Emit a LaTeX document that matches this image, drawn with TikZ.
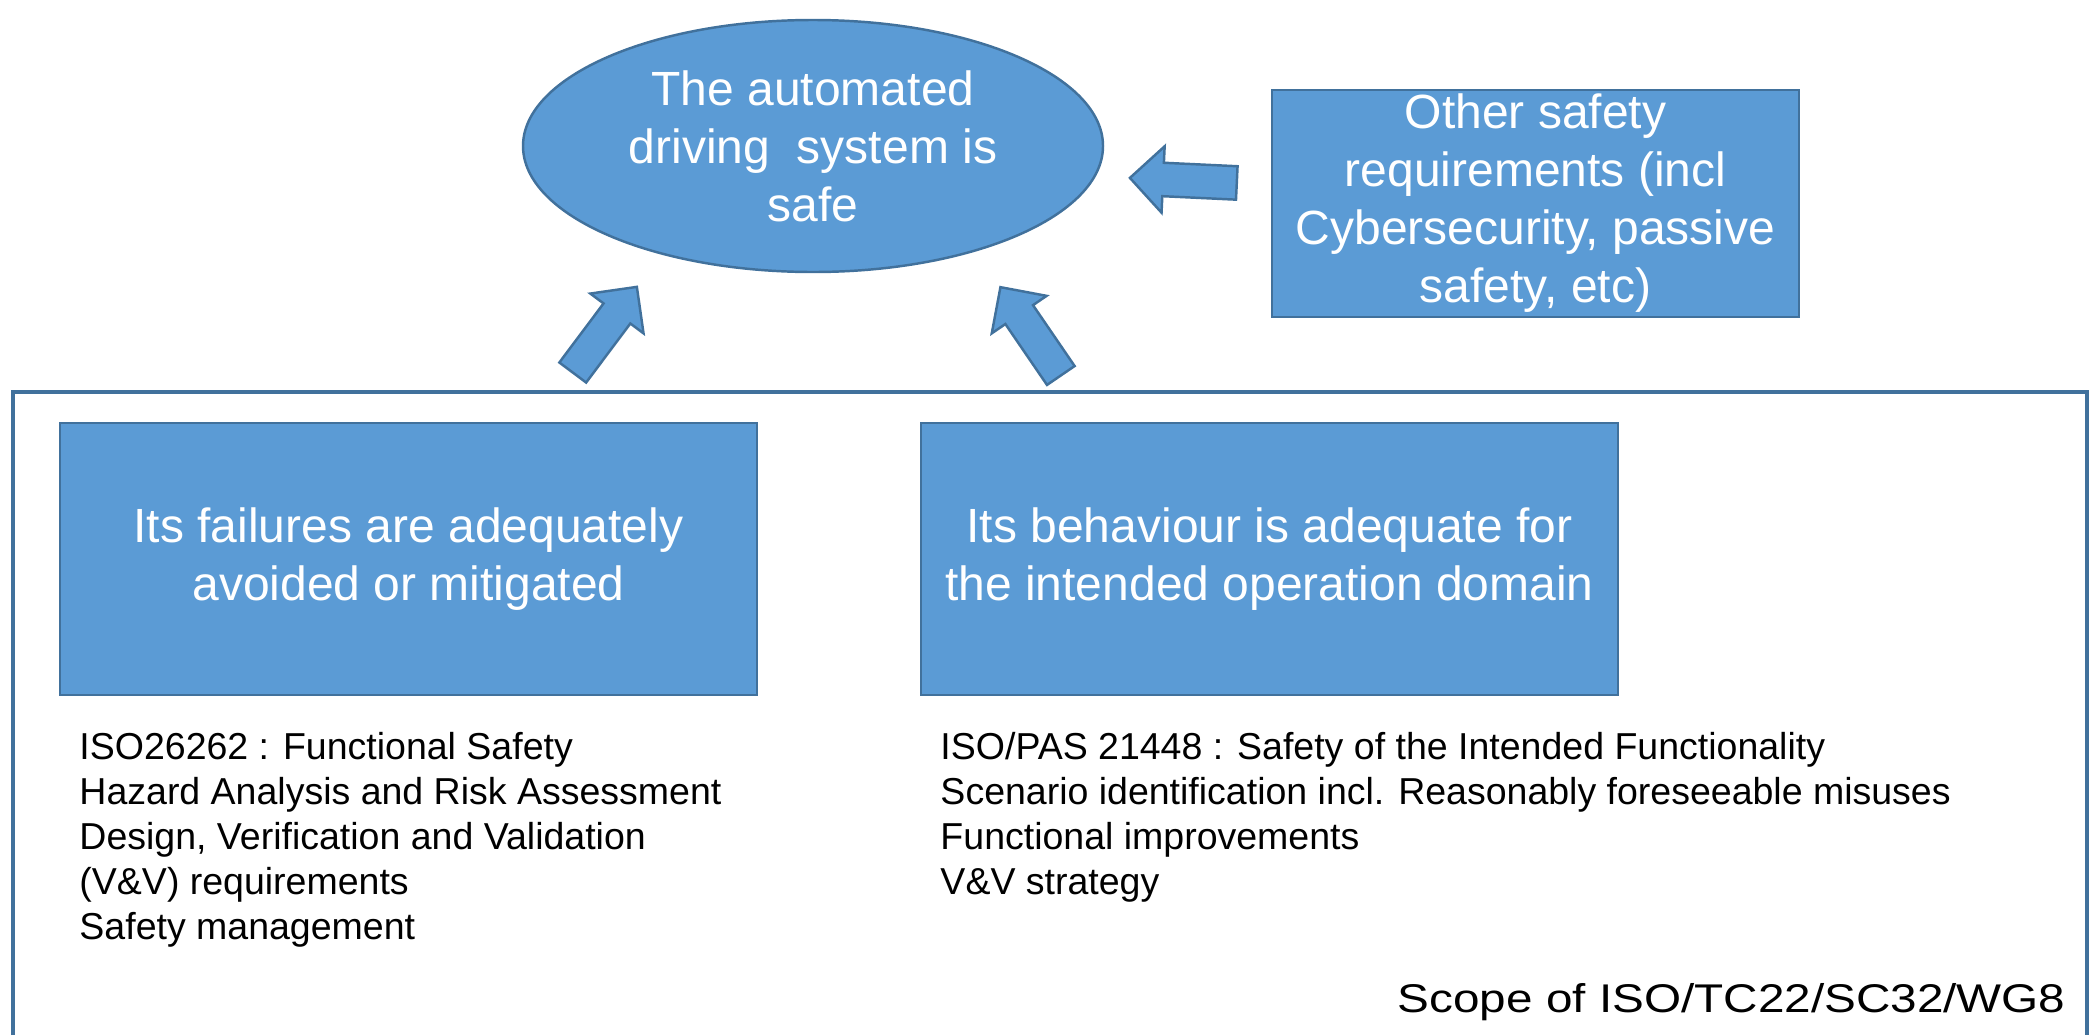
\documentclass[tikz,border=0pt]{standalone}
\usepackage{fontspec}
\setmainfont{Liberation Sans}
\usepackage{tikz}
\usetikzlibrary{shapes.geometric}
\usetikzlibrary{shapes.arrows}
\usetikzlibrary{positioning}
\definecolor{boxblue}{RGB}{91,155,213}
\definecolor{edgeblue}{RGB}{65,113,156}

\begin{document}
\begin{tikzpicture}[
  bigtext/.style={font=\fontsize{13.66}{16.5}\selectfont, text=white, align=center},
  bluebox/.style={draw=edgeblue, fill=boxblue, line width=.7pt, bigtext, inner sep=0pt},
  listtext/.style={font=\fontsize{10.67}{12.8}\selectfont, align=left, inner sep=0pt},
  blockarrow/.style={single arrow, draw=edgeblue, fill=boxblue, line width=.7pt,
    minimum height=1.07cm, single arrow head extend=.165cm,
    inner xsep=0pt, inner ysep=.155cm, sloped, allow upside down, pos=0, anchor=tail}]
\useasboundingbox (0,0) rectangle (20.97,10.35);
% scope frame
\draw[edgeblue, line width=.9pt] (0.13,0) |- (20.87,6.43) -- (20.87,0);
\node[anchor=base west, inner sep=0pt, font=\fontsize{11.4}{13}\selectfont] (scope) at (13.97,0.23) {\scalebox{1.19}[1]{Scope of ISO/TC22/SC32/WG8}};
% top goal and other requirements
\node[bluebox, ellipse, minimum width=5.8cm, minimum height=2.52cm] (goal) at (8.13,8.89) {The automated\\driving~ system is\\safe};
\node[bluebox, minimum width=5.27cm, minimum height=2.27cm] (other) at (15.355,8.315) {Other safety\\requirements (incl\\Cybersecurity, passive\\safety, etc)};
% the two claims
\node[bluebox, minimum width=6.97cm, minimum height=2.72cm] (fail) at (4.085,4.76) {Its failures are adequately\\avoided or mitigated};
\node[bluebox, minimum width=6.97cm, minimum height=2.72cm] (behave) at (12.695,4.76) {Its behaviour is adequate for\\the intended operation domain};
\node[listtext, below right=0.35cm and 0.2cm of fail.south west] (faillist) {ISO26262 : Functional Safety\\Hazard Analysis and Risk Assessment\\Design, Verification and Validation\\(V\&V) requirements\\Safety management};
\node[listtext, below right=0.35cm and 0.2cm of behave.south west] (behavelist) {ISO/PAS 21448 : Safety of the Intended Functionality\\Scenario identification incl. Reasonably foreseeable misuses\\Functional improvements\\V\&V strategy};
% block arrows
\coordinate (tailL) at (5.72,6.615);
\coordinate (tipL) at (6.36,7.47);
\coordinate (tailR) at (10.615,6.585);
\coordinate (tipR) at (10.01,7.47);
\coordinate (tailO) at (12.38,8.52);
\coordinate (tipO) at (11.32,8.57);
\path (tailL) -- node[blockarrow] (arrL) {} (tipL);
\path (tailR) -- node[blockarrow] (arrR) {} (tipR);
\path (tailO) -- node[blockarrow] (arrO) {} (tipO);
\end{tikzpicture}
\end{document}
